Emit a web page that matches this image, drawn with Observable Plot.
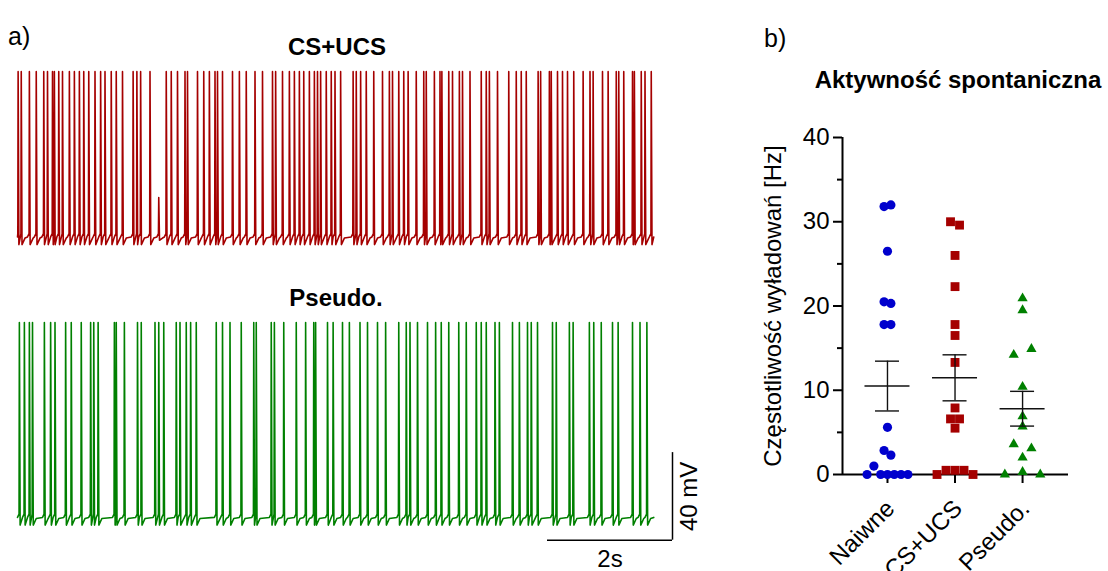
<!DOCTYPE html>
<html>
<head>
<meta charset="utf-8">
<script src="https://cdn.jsdelivr.net/npm/d3@7"></script>
<script src="https://cdn.jsdelivr.net/npm/@observablehq/plot@0.6"></script>
<style>
  html, body { margin: 0; padding: 0; background: #fff; }
  #root { position: relative; width: 1108px; height: 571px; overflow: hidden; background: #fff;
          font-family: "Liberation Sans", Arial, sans-serif; color: #000; }
  #panelA, #panelB { position: absolute; top: 0; }
  #panelA { left: 0; }
  #panelB { left: 700px; }
  .lbl { position: absolute; line-height: 1; white-space: nowrap; font-size: 24px; }
  .bold { font-weight: bold; }
  .ctr { transform: translateX(-50%); }
</style>
</head>
<body>
<div id="root">
  <div id="panelA"></div>
  <div id="panelB"></div>
  <div class="lbl" style="left:8px;top:24px;font-size:25px;">a)</div>
  <div class="lbl" style="left:764px;top:26px;font-size:25px;">b)</div>
  <div class="lbl bold ctr" style="left:337px;top:35px;">CS+UCS</div>
  <div class="lbl bold ctr" style="left:336px;top:286px;">Pseudo.</div>
  <div class="lbl bold ctr" style="left:958px;top:68px;">Aktywność spontaniczna</div>
</div>
<script>
// ---------------- DATA ----------------
// Panel a: spike times (s) read from the two recordings
const csucsSpikes = [0.01,0.06,0.19,0.30,0.42,0.48,0.56,0.59,0.66,0.72,0.83,0.91,0.99,1.06,1.14,1.24,1.33,1.40,1.50,1.58,1.68,1.85,1.91,1.97,2.12,2.38,2.46,2.56,2.68,2.72,2.88,2.98,3.07,3.16,3.20,3.28,3.44,3.55,3.66,3.80,3.92,4.08,4.13,4.24,4.35,4.43,4.51,4.58,4.67,4.75,4.80,4.85,4.94,5.02,5.08,5.17,5.37,5.42,5.49,5.58,5.70,5.84,5.95,6.00,6.10,6.18,6.25,6.38,6.50,6.54,6.67,6.76,6.79,6.90,6.96,7.07,7.12,7.24,7.42,7.50,7.55,7.68,7.86,7.98,8.06,8.14,8.33,8.37,8.51,8.54,8.64,8.72,8.80,8.90,9.05,9.16,9.21,9.36,9.45,9.58,9.62,9.70,9.84,9.87,9.98,10.04,10.14];
const pseudoSpikes = [0.03,0.11,0.19,0.24,0.43,0.53,0.60,0.77,0.86,1.02,1.17,1.22,1.29,1.55,1.58,1.71,1.92,1.98,2.20,2.26,2.34,2.54,2.60,2.70,2.77,2.86,3.18,3.28,3.40,3.58,3.78,3.82,4.06,4.11,4.26,4.46,4.61,4.74,4.77,4.96,5.05,5.20,5.31,5.48,5.60,5.76,5.89,6.10,6.22,6.28,6.40,6.56,6.69,6.78,6.90,7.06,7.18,7.34,7.42,7.50,7.64,7.71,7.92,8.03,8.16,8.22,8.32,8.56,8.62,8.83,8.89,9.15,9.22,9.34,9.52,9.61,9.84,9.96,10.07];
const csucsAmp = 75.5;    // mV, spike amplitude
const pseudoAmp = 89;     // mV
const csucsMinor = [[2.26, 18]];   // small sub-threshold events [t, mV]
const pseudoMinor = [];
const recordingLength = 10.18;     // s
const scaleBarSeconds = 2;
const scaleBarMV = 40;

// Panel b: firing frequency (Hz) per group
const groups = ["Naiwne", "CS+UCS", "Pseudo."];
const naiwneHz = [31.8, 32.0, 26.5, 20.5, 20.3, 17.8, 17.8, 5.6, 2.85, 2.3, 0, 1.0, 0, 0, 0, 0, 0];
const csucsHz  = [30.0, 29.6, 26.0, 22.3, 17.8, 16.5, 13.3, 7.9, 6.6, 6.6, 5.5, 0, 0.5, 0.5, 0.5, 0];
const pseudoHz = [20.9, 19.5, 14.2, 14.9, 10.4, 6.9, 5.7, 3.6, 3.1, 2.0, 0, 0.3, 0];
const yTicksMajor = [0, 10, 20, 30, 40];
const yTicksMinor = [5, 15, 25, 35];
const yLabel = "Częstotliwość wyładowań [Hz]";

// ---------------- STYLE ----------------
const RED = "#a50000", GREEN = "#008000", BLUE = "#0000cd";
const FONT = "'Liberation Sans', Arial, sans-serif";

// ---------------- PANEL A ----------------
const TOP_OFFSET = 128.1; // vertical separation of the two traces (mV units)

function buildTrace(spikes, amp, minor, offset) {
  const ev = spikes.map(t => ({t, a: amp}))
    .concat(minor.map(([t, a]) => ({t, a})))
    .sort((p, q) => p.t - q.t);
  const pts = [{t: 0, v: offset}];
  ev.forEach((e, i) => {
    const prev = i ? ev[i - 1].t : -1;
    const next = i < ev.length - 1 ? ev[i + 1].t : recordingLength;
    const ahp = e.a > 40 ? 3.5 : 1.5;
    if (e.t - prev > 0.06) pts.push({t: Math.max(0, e.t - 0.03), v: offset});
    pts.push({t: Math.max(0, e.t - 0.005), v: offset + 1.5});
    pts.push({t: e.t, v: offset + e.a});
    pts.push({t: e.t + 0.012, v: offset - ahp});
    if (next - e.t > 0.1) pts.push({t: e.t + 0.06, v: offset - 0.5});
  });
  pts.push({t: recordingLength, v: offset});
  return pts;
}

const traceTop = buildTrace(csucsSpikes, csucsAmp, csucsMinor, TOP_OFFSET);
const traceBottom = buildTrace(pseudoSpikes, pseudoAmp, pseudoMinor, 0);

const barRight = recordingLength + 0.3;
const barLeft = barRight - scaleBarSeconds;
const barY = -10.4;

const WA = 760;
const plotA = Plot.plot({
  width: WA, height: 571,
  marginTop: 0, marginBottom: 0, marginLeft: 0, marginRight: 0,
  x: {domain: [-0.272, -0.272 + WA / 62.5], axis: null},
  y: {domain: [-24.7, 236.1], axis: null},
  style: {background: "transparent", fontFamily: FONT, color: "#000", overflow: "visible"},
  marks: [
    Plot.line(traceTop, {x: "t", y: "v", stroke: RED, strokeWidth: 1.6}),
    Plot.line(traceBottom, {x: "t", y: "v", stroke: GREEN, strokeWidth: 1.6}),
    Plot.ruleY([barY], {x1: barLeft, x2: barRight, stroke: "#000", strokeWidth: 1.5}),
    Plot.ruleX([barRight], {y1: barY, y2: barY + scaleBarMV, stroke: "#000", strokeWidth: 1.5}),
    Plot.text([`${scaleBarSeconds}s`], {x: barRight - scaleBarSeconds / 2, y: barY, dy: 10, lineAnchor: "top", fontSize: 24, fill: "#000"}),
    Plot.text([`${scaleBarMV} mV`], {x: barRight, y: barY + scaleBarMV / 2, dx: 7, rotate: -90, lineAnchor: "top", textAnchor: "middle", fontSize: 24, fill: "#000"})
  ]
});
document.getElementById("panelA").appendChild(plotA);

// ---------------- PANEL B ----------------
const WB = 408, mL = 142, mR = 40, mT = 137, mB = 97;
const xDom = [0.334, 3.68];
const yDom = [0, 40];
const pxPerX = (WB - mL - mR) / (xDom[1] - xDom[0]);
const spacingPx = [6.8, 9, 17.7];   // horizontal spacing of overlapping points per group

function swarm(values, gi) {
  const order = values.map((v, i) => i).sort((a, b) => values[b] - values[a] || a - b);
  const rows = [];
  for (const i of order) {
    const row = rows[rows.length - 1];
    if (row && values[row[0]] - values[i] <= 1.05) row.push(i);
    else rows.push([i]);
  }
  const out = [];
  for (const row of rows) {
    row.sort((a, b) => a - b);
    row.forEach((i, k) => {
      const off = (k - (row.length - 1) / 2) * spacingPx[gi];
      out.push({group: groups[gi], gi, x: gi + 1 + off / pxPerX, hz: values[i]});
    });
  }
  return out;
}

const allSets = [naiwneHz, csucsHz, pseudoHz];
const points = allSets.map((vals, gi) => swarm(vals, gi));
const stats = allSets.map((vals, gi) => {
  const m = d3.mean(vals);
  const sem = d3.deviation(vals) / Math.sqrt(vals.length);
  return {gi, x: gi + 1, mean: m, lo: m - sem, hi: m + sem};
});
const meanHalf = 22.5 / pxPerX, capHalf = 12 / pxPerX;
const groupTicks = groups.map((g, i) => ({g, x: i + 1}));

const plotB = Plot.plot({
  width: WB, height: 571,
  marginLeft: mL, marginRight: mR, marginTop: mT, marginBottom: mB,
  x: {domain: xDom, axis: null},
  y: {domain: yDom, axis: null},
  style: {background: "transparent", fontFamily: FONT, color: "#000"},
  marks: [
    Plot.axisY({ticks: yTicksMajor, tickSize: 9, tickPadding: 4, fontSize: 24, strokeWidth: 2, label: null}),
    Plot.axisY({ticks: yTicksMinor, tickSize: 5, tickFormat: () => "", strokeWidth: 2, label: null}),
    Plot.ruleX([xDom[0]], {y1: yDom[0], y2: yDom[1], stroke: "#000", strokeWidth: 2}),
    Plot.ruleY([0], {stroke: "#000", strokeWidth: 2}),
    Plot.axisX({ticks: [1, 2, 3], tickFormat: () => "", tickSize: 9, strokeWidth: 2, label: null}),
    Plot.text(groupTicks, {x: "x", y: 0, text: "g", rotate: -45, textAnchor: "end", lineAnchor: "middle", dx: 3, dy: 30, fontSize: 24, fill: "#000"}),
    Plot.text([yLabel], {frameAnchor: "left", dx: -69, rotate: -90, textAnchor: "middle", lineAnchor: "middle", fontSize: 24, fill: "#000"}),
    Plot.dot(points[0], {x: "x", y: "hz", r: 4.6, symbol: "circle", fill: BLUE, stroke: "none"}),
    Plot.dot(points[1], {x: "x", y: "hz", r: 5.0, symbol: "square", fill: RED, stroke: "none"}),
    Plot.dot(points[2], {x: "x", y: "hz", r: 3.8, symbol: "triangle", fill: GREEN, stroke: "none"}),
    Plot.ruleY(stats, {y: "mean", x1: d => d.x - meanHalf, x2: d => d.x + meanHalf, stroke: "#111", strokeWidth: 1.4}),
    Plot.ruleY(stats, {y: "hi", x1: d => d.x - capHalf, x2: d => d.x + capHalf, stroke: "#111", strokeWidth: 1.4}),
    Plot.ruleY(stats, {y: "lo", x1: d => d.x - capHalf, x2: d => d.x + capHalf, stroke: "#111", strokeWidth: 1.4}),
    Plot.ruleX(stats, {x: "x", y1: "lo", y2: "hi", stroke: "#111", strokeWidth: 1.4})
  ]
});
document.getElementById("panelB").appendChild(plotB);
</script>
</body>
</html>
